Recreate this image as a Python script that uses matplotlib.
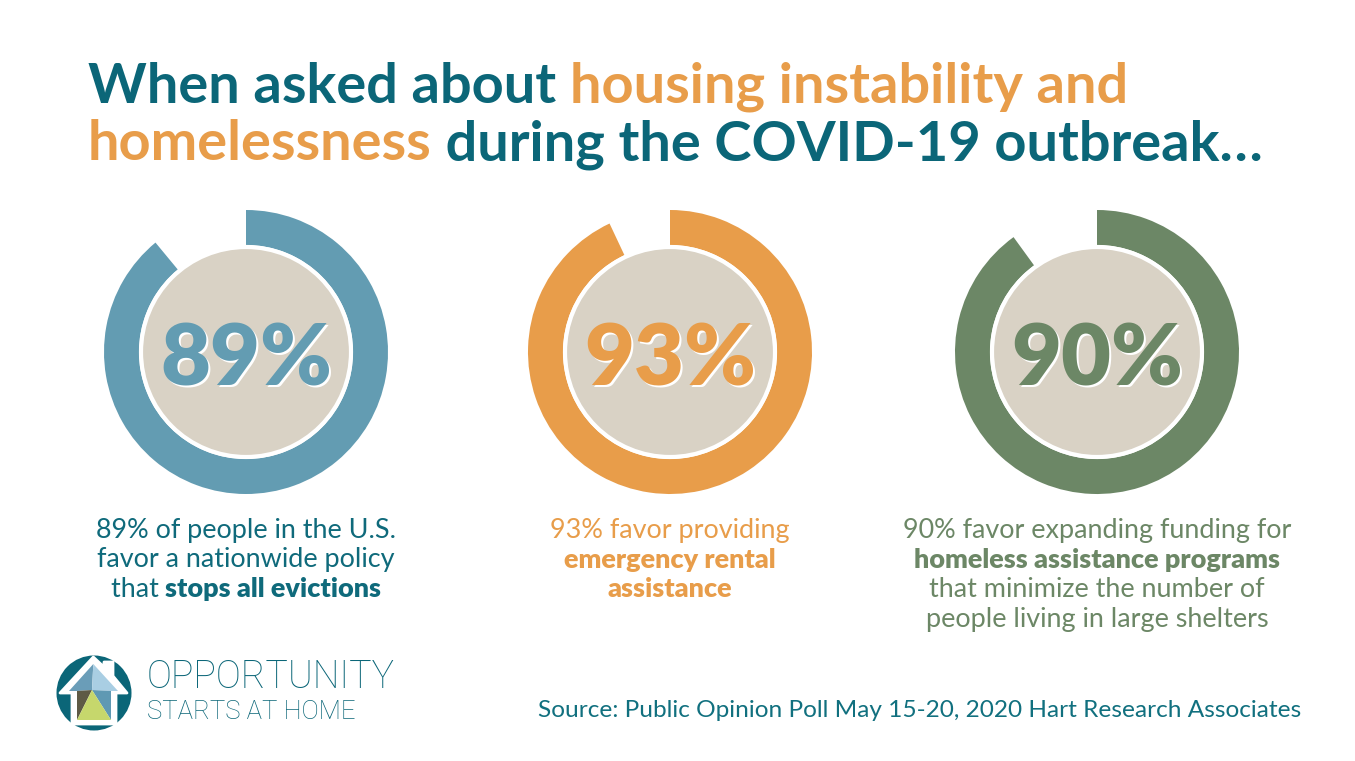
import matplotlib
matplotlib.use('Agg')
import matplotlib.pyplot as plt
from matplotlib.patches import Wedge, Circle, Polygon

W, H = 1355, 761

# ---- data ----
percentages = [89, 93, 90]
pct_labels = ['89%', '93%', '90%']
ring_colors = ['#639CB2', '#E89D4A', '#6C8766']
text_colors = ['#0F6A7B', '#E89D4A', '#6C8766']
centers_x = [246, 670, 1097]

desc_lines = [
    [[('89% of people in the U.S.', False)],
     [('favor a nationwide policy', False)],
     [('that ', False), ('stops all evictions', True)]],
    [[('93% favor providing', False)],
     [('emergency rental', True)],
     [('assistance', True)]],
    [[('90% favor expanding funding for', False)],
     [('homeless assistance programs', True)],
     [('that minimize the number of', False)],
     [('people living in large shelters', False)]],
]

TEAL = '#0B6678'
ORANGE = '#E89D4A'
title_lines = [
    [('When asked about ', TEAL), ('housing instability and', ORANGE)],
    [('homelessness', ORANGE), (' during the COVID-19 outbreak\u2026', TEAL)],
]
source_text = 'Source: Public Opinion Poll May 15-20, 2020 Hart Research Associates'
logo_line1 = 'OPPORTUNITY'
logo_line2 = 'STARTS AT HOME'

FONT = 'Lato'
LOGO_FONT = 'Roboto'
BEIGE = '#D9D2C5'

fig = plt.figure(figsize=(13.55, 7.61), dpi=100)
fig.patch.set_facecolor('white')
ax = fig.add_axes([0, 0, 1, 1])
ax.set_xlim(0, W)
ax.set_ylim(H, 0)
ax.set_aspect('equal')
ax.axis('off')
renderer = fig.canvas.get_renderer()


def width_of(s, **kw):
    t = ax.text(0, 0, s, **kw)
    w = t.get_window_extent(renderer).width
    t.remove()
    return w


def advance(s, **kw):
    return width_of(s + '|', **kw) - width_of('|', **kw)


def draw_segments(x, y, segs, ha='left'):
    advs = [advance(s, **kw) for s, kw in segs]
    total = sum(advs[:-1]) + width_of(segs[-1][0], **segs[-1][1])
    x0 = x - total / 2 if ha == 'center' else x
    for (s, kw), a in zip(segs, advs):
        ax.text(x0, y, s, ha='left', va='baseline', **kw)
        x0 += a


# ---- title ----
tsize = 35
base_kw = dict(family=FONT, fontweight='bold', fontsize=tsize)
w1 = advance(title_lines[0][0][0], **base_kw) + width_of(title_lines[0][1][0], **base_kw)
tsize = tsize * 1042 / w1
for line, yb in zip(title_lines, [103, 160]):
    segs = [(s, dict(family=FONT, fontweight='bold', fontsize=tsize, color=c)) for s, c in line]
    draw_segments(88, yb, segs)

# ---- donuts ----
R_out, ring_w, R_in = 142, 35, 105
cy = 352
for p, lab, rc, cx in zip(percentages, pct_labels, ring_colors, centers_x):
    # y axis is inverted: data angle -90 is screen top; increasing data angle runs clockwise on screen
    ax.add_patch(Wedge((cx, cy), R_out, -90, -90 + 360 * p / 100, width=ring_w,
                       facecolor=rc, edgecolor='none'))
    ax.add_patch(Circle((cx, cy), R_in, facecolor=BEIGE, edgecolor='white', linewidth=3))
    kw = dict(family=FONT, fontweight='heavy', fontsize=62, ha='center', va='baseline')
    ax.text(cx + 2.5, 385 + 2.5, lab, color='white', **kw)
    ax.text(cx, 385, lab, color=rc, **kw)

# ---- descriptions ----
bsize = 15
w_ref = width_of(desc_lines[0][0][0][0], family=FONT, fontweight='normal', fontsize=bsize)
bsize = bsize * 300 / w_ref
for lines, col, cx in zip(desc_lines, text_colors, centers_x):
    for i, line in enumerate(lines):
        yb = 538 + i * 29.5
        segs = [(s, dict(family=FONT, fontweight='heavy' if b else 'normal',
                         fontsize=bsize, color=col)) for s, b in line]
        draw_segments(cx, yb, segs, ha='center')

# ---- source ----
ssize = 15
ws = width_of(source_text, family=FONT, fontsize=ssize)
ssize = ssize * 765 / ws
ax.text(538, 717, source_text, family=FONT, fontsize=ssize, color='#11707F',
        ha='left', va='baseline')

# ---- logo ----
ax.add_patch(Circle((94, 693), 37.5, facecolor=TEAL, edgecolor='none'))
house = [(93.3, 657), (104, 667), (104, 662), (113, 662), (113, 676),
         (127, 693), (116, 693), (116, 724), (72, 724), (72, 693), (60, 693)]
ax.add_patch(Polygon(house, closed=True, facecolor='white', edgecolor='white',
                     linewidth=2, joinstyle='round'))
apex = (93.3, 664)
le = (69, 691); re = (118, 691)
lb = (77, 720); rb = (111, 720)
c = (92, 690)
ax.add_patch(Polygon([apex, le, (77, 691), c], facecolor='#6A9DB8', edgecolor='none'))
ax.add_patch(Polygon([apex, c, (111, 691), re], facecolor='#A9CEE3', edgecolor='none'))
ax.add_patch(Polygon([(77, 691), c, lb], facecolor='#5E5A45', edgecolor='none'))
ax.add_patch(Polygon([(111, 691), rb, c], facecolor='#5F99B3', edgecolor='none'))
ax.add_patch(Polygon([c, lb, rb], facecolor='#C6D76C', edgecolor='none'))

l1size = 21
w = width_of(logo_line1, family=LOGO_FONT, fontweight='light', fontsize=l1size)
l1size = l1size * 248 / w
ax.text(147, 688, logo_line1, family=LOGO_FONT, fontweight='light', fontsize=l1size,
        color=TEAL, ha='left', va='baseline')
ax.text(147, 719, logo_line2, family=LOGO_FONT, fontweight='light', fontsize=18.5,
        color=TEAL, ha='left', va='baseline')

fig.savefig('out.png', dpi=100, facecolor='white')
